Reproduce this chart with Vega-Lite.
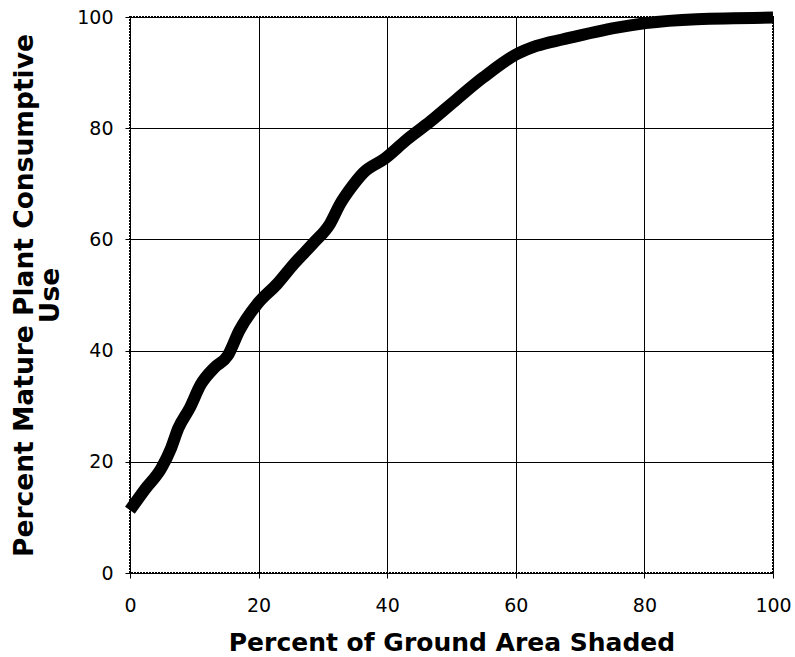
{
  "$schema": "https://vega.github.io/schema/vega-lite/v6.json",
  "autosize": {"type": "none"},
  "width": 643,
  "height": 556,
  "padding": {"left": 130, "top": 17, "right": 22, "bottom": 84},
  "background": "white",
  "config": {
    "view": {"stroke": "black", "strokeWidth": 2, "strokeDash": [2, 1]},
    "axis": {
      "labelFont": "DejaVu Sans",
      "labelFontSize": 19,
      "labelColor": "black",
      "titleFont": "DejaVu Sans",
      "titleFontWeight": "bold",
      "titleColor": "black",
      "gridColor": "black",
      "gridOpacity": 1,
      "gridWidth": 1,
      "tickColor": "black",
      "tickSize": 5,
      "domain": false
    }
  },
  "data": {
    "values": [
      {"shaded": 0, "use": 11.3},
      {"shaded": 2.3, "use": 15},
      {"shaded": 4.9, "use": 18.9},
      {"shaded": 6.4, "use": 22.5},
      {"shaded": 7.5, "use": 26},
      {"shaded": 9.3, "use": 29.7},
      {"shaded": 11, "use": 33.9},
      {"shaded": 13.1, "use": 36.9},
      {"shaded": 15.2, "use": 39.1},
      {"shaded": 17, "use": 43.6},
      {"shaded": 19.8, "use": 48.4},
      {"shaded": 22.9, "use": 52},
      {"shaded": 25.5, "use": 55.6},
      {"shaded": 28.5, "use": 59.3},
      {"shaded": 31.1, "use": 62.8},
      {"shaded": 32.7, "use": 66.4},
      {"shaded": 34.2, "use": 69},
      {"shaded": 36.3, "use": 72},
      {"shaded": 39.7, "use": 74.6},
      {"shaded": 43, "use": 77.9},
      {"shaded": 46.7, "use": 81.2},
      {"shaded": 50.8, "use": 85.2},
      {"shaded": 54.9, "use": 89.1},
      {"shaded": 60.1, "use": 93.3},
      {"shaded": 63.2, "use": 94.8},
      {"shaded": 67.4, "use": 96},
      {"shaded": 75.7, "use": 98.1},
      {"shaded": 80.2, "use": 98.9},
      {"shaded": 88.1, "use": 99.6},
      {"shaded": 100, "use": 99.9}
    ]
  },
  "mark": {"type": "line", "color": "black", "strokeWidth": 12, "strokeCap": "butt", "strokeJoin": "round", "interpolate": "monotone"},
  "encoding": {
    "x": {
      "field": "shaded",
      "type": "quantitative",
      "scale": {"domain": [0, 100], "nice": false},
      "axis": {
        "values": [0, 20, 40, 60, 80, 100],
        "title": "Percent of Ground Area Shaded",
        "titleFontSize": 25,
        "labelPadding": 18,
        "titlePadding": 15,
        "labelFlush": false
      }
    },
    "y": {
      "field": "use",
      "type": "quantitative",
      "scale": {"domain": [0, 100], "nice": false},
      "axis": {
        "values": [0, 20, 40, 60, 80, 100],
        "title": ["Percent Mature Plant Consumptive", "Use"],
        "titleFontSize": 26.5,
        "titleLineHeight": 26,
        "labelPadding": 12,
        "titlePadding": 12
      }
    }
  }
}
